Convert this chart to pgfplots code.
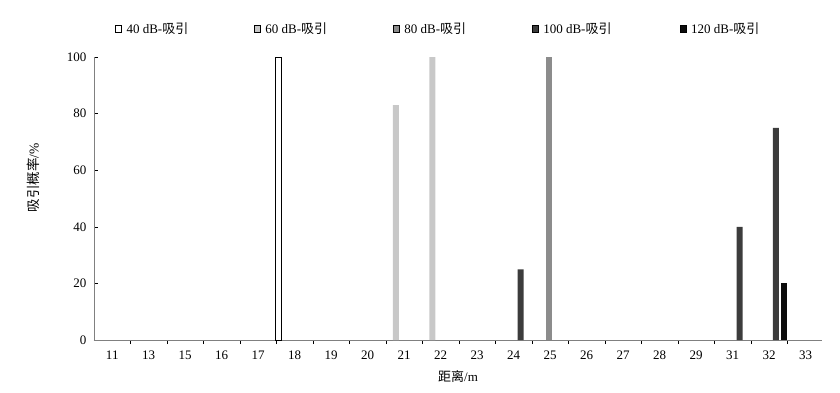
\documentclass[border=0pt]{standalone}
\usepackage{pgfplots}
\pgfplotsset{compat=1.18}
\usepackage{fontspec}
\setmainfont{Liberation Serif}
\newfontfamily\cjk{Noto Sans CJK SC}
\definecolor{cA}{RGB}{255,255,255}
\definecolor{cB}{RGB}{200,200,200}
\definecolor{cC}{RGB}{140,140,140}
\definecolor{cD}{RGB}{60,60,60}
\definecolor{cE}{RGB}{12,12,12}
\definecolor{axc}{RGB}{128,128,128}
\newcommand{\lt}[2]{\makebox[#1][l]{\hspace{3pt}#2}}
\begin{document}
\fontsize{13}{15}\selectfont
\begin{tikzpicture}[x=1pt,y=1pt]
\useasboundingbox (-94,-52) rectangle (746,340);
\begin{axis}[
  at={(0,0)}, anchor=south west,
  scale only axis, width=728pt, height=283pt,
  xmin=-0.5, xmax=19.45, ymin=0, ymax=100,
  axis x line*=bottom, axis y line*=left,
  axis line style={axc, line width=0.8pt},
  xtick={0,...,19},
  xticklabels={11,13,15,16,17,18,19,20,21,22,23,24,25,26,27,28,29,31,32,33},
  major x tick style={draw=none},
  minor xtick={0.5,1.5,...,18.5},
  ytick={0,20,...,100},
  tick align=inside, major tick length=4pt, minor tick length=4pt,
  tick style={black, line width=0.5pt},
  /pgf/number format/assume math mode=true,
  ticklabel style={font=\fontsize{13}{15}\selectfont},
  xticklabel style={yshift=-2pt},
  yticklabel style={xshift=-3pt},
  xlabel={{\cjk 距离}/m},
  xlabel style={at={(axis description cs:0.5,-0.13)}, anchor=center, font=\fontsize{13}{15}\selectfont},
  ylabel={{\cjk 吸引概率}/\%},
  ylabel style={at={(axis description cs:-0.083,0.574)}, anchor=center, font=\fontsize{13.5}{15}\selectfont},
  ybar, bar width=6pt,
  legend columns=5,
  legend image code/.code={\draw[#1] (0pt,-3.3pt) rectangle (6pt,3.3pt);},
  legend style={at={(axis description cs:0.0288,1.099)}, anchor=west, draw=none, fill=none,
    inner sep=0pt, outer sep=0pt, font=\fontsize{13}{15}\selectfont,
    /tikz/every even column/.append style={column sep=0pt}},
  legend cell align=left,
]
\addplot[fill=cA, draw=black, line width=0.6pt, bar shift=-16pt] coordinates {(5,100)};
\addlegendentry{\lt{128.5pt}{40 dB-{\cjk 吸引}}}
\addplot[fill=cB, draw=none, bar shift=-8.4pt] coordinates {(8,83) (9,100)};
\addlegendentry{\lt{128.5pt}{60 dB-{\cjk 吸引}}}
\addplot[fill=cC, draw=none, bar shift=-0.7pt] coordinates {(12,100)};
\addlegendentry{\lt{128.5pt}{80 dB-{\cjk 吸引}}}
\addplot[fill=cD, draw=none, bar shift=6.9pt] coordinates {(11,25) (17,40) (18,75)};
\addlegendentry{\lt{137.5pt}{100 dB-{\cjk 吸引}}}
\addplot[fill=cE, draw=none, bar shift=14.6pt] coordinates {(18,20)};
\addlegendentry{\lt{80pt}{120 dB-{\cjk 吸引}}}
\end{axis}
\end{tikzpicture}
\end{document}
